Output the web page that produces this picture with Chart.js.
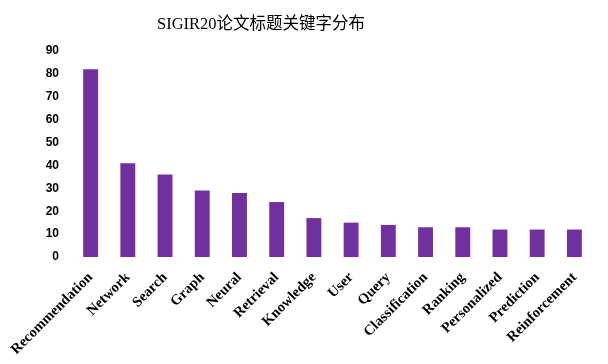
<!DOCTYPE html>
<html>
<head>
<meta charset="utf-8">
<script src="https://cdn.jsdelivr.net/npm/chart.js@4"></script>
<style>
  body { margin: 0; background: #fff; }
</style>
</head>
<body>
<canvas id="keywordChart" width="608" height="364"></canvas>
<script>
// keyword counts
const chartTitle = 'SIGIR20论文标题关键字分布';
const keywords = ['Recommendation', 'Network', 'Search', 'Graph', 'Neural', 'Retrieval', 'Knowledge',
    'User', 'Query', 'Classification', 'Ranking', 'Personalized', 'Prediction', 'Reinforcement'];
const counts = [82, 41, 36, 29, 28, 24, 17, 15, 14, 13, 13, 12, 12, 12];
const yTicks = [0, 10, 20, 30, 40, 50, 60, 70, 80, 90];

// title is drawn by hand since the reference puts it left of centre
const titlePlugin = {
    id: 'offsetTitle',
    afterDraw(chart) {
        const ctx = chart.ctx;
        ctx.save();
        ctx.font = '16.5px "Liberation Serif", "Noto Sans CJK SC", serif';
        ctx.fillStyle = '#000';
        ctx.textAlign = 'center';
        ctx.textBaseline = 'middle';
        ctx.fillText(chartTitle, 261, 25);
        ctx.restore();
    }
};

const ctx = document.getElementById('keywordChart').getContext('2d');
const chart = new Chart(ctx, {
    type: 'bar',
    data: {
        labels: keywords,
        datasets: [{
            label: 'count',
            data: counts,
            backgroundColor: '#7030A0',
            barPercentage: 0.4,
            categoryPercentage: 1.0,
        }]
    },
    options: {
        responsive: false,
        animation: false,
        layout: {
            padding: { top: 51, right: 15, left: 30, bottom: 0 }
        },
        plugins: {
            legend: { display: false },
            tooltip: { enabled: false },
            title: { display: false }
        },
        scales: {
            x: {
                grid: { display: false },
                border: { display: false },
                // fixed axis box so the plot area sits where the reference has it
                afterFit: (axis) => {
                    axis.height = 107;
                    axis.paddingLeft = 0;
                    axis.paddingRight = 0;
                },
                ticks: {
                    autoSkip: false,
                    maxRotation: 45,
                    minRotation: 45,
                    color: '#000',
                    padding: 4,
                    font: { family: '"Liberation Serif", serif', size: 14.5, weight: 'bold' }
                }
            },
            y: {
                min: 0,
                max: 90,
                afterBuildTicks: (axis) => { axis.ticks = yTicks.map(v => ({ value: v })); },
                afterFit: (axis) => {
                    axis.width = 42;
                    axis.paddingTop = 0;
                    axis.paddingBottom = 0;
                },
                grid: { display: false, drawTicks: false },
                border: { display: false },
                ticks: {
                    color: '#000',
                    padding: 13,
                    font: { family: '"Liberation Sans", sans-serif', size: 12, weight: 'bold' }
                }
            }
        }
    },
    plugins: [titlePlugin]
});
</script>
</body>
</html>
